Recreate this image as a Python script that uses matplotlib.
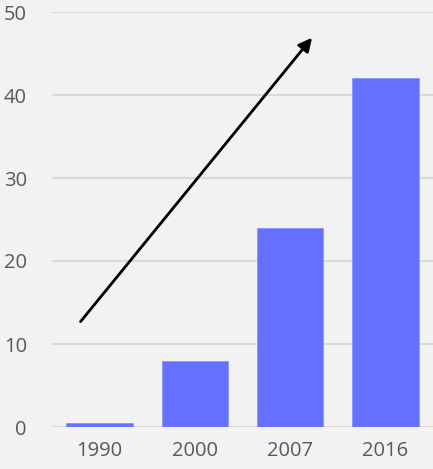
import matplotlib.pyplot as plt

# data
years = ['1990', '2000', '2007', '2016']
values = [0.45, 8.0, 24.0, 42.0]
y_ticks = [0, 10, 20, 30, 40, 50]
arrow_start = (-0.2, 12.7)
arrow_end = (2.23, 46.9)

plt.rcParams['font.family'] = ['Open Sans', 'DejaVu Sans']

fig = plt.figure(figsize=(4.33, 4.69), dpi=100, facecolor='#F2F2F2')
ax = fig.add_axes([52 / 433, 1 - 427 / 469, 1 - 52 / 433, (427 - 12) / 469])
ax.set_facecolor('#F2F2F2')

x = range(len(years))
ax.bar(x, values, width=0.7, color='#6670FF', edgecolor='#8C94FF', linewidth=0.6, zorder=2)

ax.set_xlim(-0.5, 3.5)
ax.set_ylim(0, 50)
ax.set_yticks(y_ticks)
ax.set_xticks(list(x))
ax.set_xticklabels(years)
ax.grid(axis='y', color='#D9D9D9', linewidth=1.5, zorder=0)
for s in ax.spines.values():
    s.set_visible(False)
ax.tick_params(length=0, labelsize=14.5, colors='#595959')
ax.tick_params(axis='y', pad=18)
ax.tick_params(axis='x', pad=10)

ax.annotate('', xy=arrow_end, xytext=arrow_start,
            arrowprops=dict(arrowstyle='-|>', color='black', lw=2,
                            mutation_scale=20, shrinkA=0, shrinkB=0),
            zorder=3)

fig.savefig('out.png', dpi=100, facecolor=fig.get_facecolor())
